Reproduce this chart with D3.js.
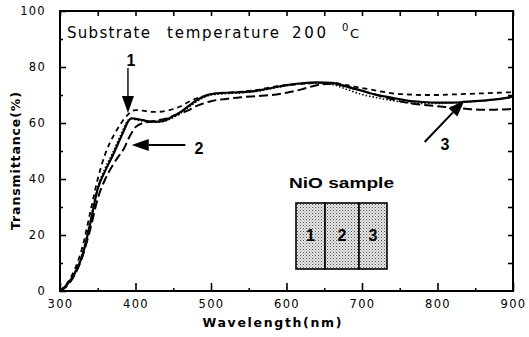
<!DOCTYPE html>
<html>
<head>
<meta charset="utf-8">
<script src="https://cdn.jsdelivr.net/npm/d3@7"></script>
<style>
  html, body { margin: 0; padding: 0; background: #fff; }
  svg { display: block; }
  .tick text { font-family: "DejaVu Sans", sans-serif; font-size: 11.5px; letter-spacing: 1.3px; fill: #000; }
</style>
</head>
<body>
<svg id="chart" width="529" height="337"></svg>
<script>
// Transmittance spectra of NiO films, substrate at 200 °C
const wavelengths = [300, 310, 320, 330, 340, 350, 360, 370, 380, 385, 390, 395, 400, 410, 420, 430, 440, 450, 460, 470, 480, 490, 500, 520, 540, 560, 580, 600, 620, 640, 660, 680, 700, 720, 740, 760, 780, 800, 820, 840, 860, 880, 900];

// position 1 (solid)
const sample1 = [0, 2.5, 6.5, 13, 24, 36.5, 43, 48.5, 54.5, 57.5, 60.5, 61.7, 61.5, 61, 60.5, 60.5, 61, 62.5, 64, 66, 68, 69.5, 70.3, 70.8, 71, 71.5, 72.5, 73.5, 74.2, 74.5, 74.3, 73, 71.5, 70, 69, 68, 67.5, 67.3, 67.3, 67.6, 68, 68.5, 69.5];
// position 2 (long dash)
const sample2 = [0, 2, 6, 12.5, 22, 33, 40, 45, 49, 51, 54, 56.5, 58.5, 60, 60.5, 61, 61.5, 62.5, 63.5, 64.5, 66, 67, 67.8, 68.6, 69.2, 69.6, 70, 70.8, 72, 73.5, 74, 73, 71.5, 70, 68.5, 67.2, 66.5, 66, 65.5, 65, 64.7, 64.8, 65];
// position 3 (short dash)
const sample3 = [0, 3, 8, 16, 28, 40, 49, 55, 59.5, 61.5, 63, 64.2, 64.6, 64.4, 64, 64, 64.3, 65, 66, 67.5, 68.7, 69.5, 70.3, 70.8, 71.2, 71.8, 72.8, 73.5, 74, 74.3, 74.3, 73.5, 72.5, 71.5, 70.6, 70.2, 70, 70, 70.2, 70.4, 70.6, 70.8, 71];
// repeat scan (dotted)
const sampleRepeat = [0, 2.5, 7, 14, 25, 37, 44, 49.5, 55.5, 58.5, 61, 61.5, 61.2, 60.7, 60.3, 60.3, 60.8, 62, 63.5, 65.5, 67.5, 69, 70, 70.5, 70.8, 71.3, 72.3, 73.3, 74, 74.2, 73.8, 72, 70.2, 69, 68, 67.3, 67, 67, 67.2, 67.5, 68, 68.5, 69];

const xTicks = [300, 400, 500, 600, 700, 800, 900];
const xMinorTicks = [350, 450, 550, 650, 750, 850];
const yTicks = [0, 20, 40, 60, 80, 100];
const yMinorTicks = [10, 30, 50, 70, 90];
const yAllTicks = [10, 20, 30, 40, 50, 60, 70, 80, 90];

const svg = d3.select("#chart");
const x = d3.scaleLinear().domain([300, 900]).range([60, 513]);
const y = d3.scaleLinear().domain([0, 100]).range([291, 11]);

function styleAxis(g) {
  g.attr("font-family", null).attr("font-size", null);
  g.select(".domain").remove();
  g.selectAll(".tick line").attr("stroke", "#000").attr("stroke-width", 1.6);
}

// bottom axis
svg.append("g").attr("transform", `translate(0,${y(0)})`)
  .call(d3.axisBottom(x).tickValues(xTicks).tickSize(-8).tickPadding(9).tickFormat(d3.format("d")))
  .call(styleAxis);
svg.append("g").attr("transform", `translate(0,${y(0)})`)
  .call(d3.axisBottom(x).tickValues(xMinorTicks).tickSize(-3).tickFormat(""))
  .call(styleAxis);
// top axis
svg.append("g").attr("transform", `translate(0,${y(100)})`)
  .call(d3.axisTop(x).tickValues(xTicks.concat(xMinorTicks)).tickSize(-5).tickFormat(""))
  .call(styleAxis);
// left axis
svg.append("g").attr("transform", `translate(${x(300)},0)`)
  .call(d3.axisLeft(y).tickValues(yTicks).tickSize(-6).tickPadding(14).tickFormat(d3.format("d")))
  .call(styleAxis);
svg.append("g").attr("transform", `translate(${x(300)},0)`)
  .call(d3.axisLeft(y).tickValues(yMinorTicks).tickSize(-3).tickFormat(""))
  .call(styleAxis);
// right axis
svg.append("g").attr("transform", `translate(${x(900)},0)`)
  .call(d3.axisRight(y).tickValues(yAllTicks).tickSize(-5).tickFormat(""))
  .call(styleAxis);

// frame
svg.append("rect")
  .attr("x", x(300)).attr("y", y(100))
  .attr("width", x(900) - x(300)).attr("height", y(0) - y(100))
  .attr("fill", "none").attr("stroke", "#000").attr("stroke-width", 2);

// spectra
const line = d3.line()
  .x((d, i) => x(wavelengths[i]))
  .y(d => y(d))
  .curve(d3.curveMonotoneX);

const series = [
  { values: sampleRepeat, dash: "1.5,2", width: 1.6 },
  { values: sample2, dash: "9,4", width: 2 },
  { values: sample3, dash: "5,4", width: 1.8 },
  { values: sample1, dash: null, width: 2.2 }
];
svg.append("g").selectAll("path").data(series).join("path")
  .attr("d", d => line(d.values))
  .attr("fill", "none")
  .attr("stroke", "#000")
  .attr("stroke-width", d => d.width)
  .attr("stroke-dasharray", d => d.dash)
  .attr("stroke-linejoin", "round");

// annotation arrows, given in data coordinates
const arrows = [
  { label: "1", tail: [390, 79.6], tip: [390, 63.6], text: [394, 80.5] },
  { label: "2", tail: [466, 52.1], tip: [395, 52.1], text: [484, 49] },
  { label: "3", tail: [783, 53.2], tip: [836, 68.2], text: [810, 50.2] }
];
const ann = svg.append("g");
arrows.forEach(a => {
  const x0 = x(a.tail[0]), y0 = y(a.tail[1]);
  const x1 = x(a.tip[0]), y1 = y(a.tip[1]);
  const len = Math.hypot(x1 - x0, y1 - y0);
  const ux = (x1 - x0) / len, uy = (y1 - y0) / len;
  const hl = 17, hw = 6;
  const bx = x1 - ux * hl, by = y1 - uy * hl;
  ann.append("line")
    .attr("x1", x0).attr("y1", y0).attr("x2", bx).attr("y2", by)
    .attr("stroke", "#000").attr("stroke-width", a.label === "1" ? 1.4 : 2);
  ann.append("path")
    .attr("d", `M${x1},${y1}L${bx - uy * hw},${by + ux * hw}L${bx + uy * hw},${by - ux * hw}Z`)
    .attr("fill", "#000");
  ann.append("text")
    .attr("x", x(a.text[0])).attr("y", y(a.text[1]))
    .attr("text-anchor", "middle")
    .attr("font-family", "Liberation Sans, Arial, sans-serif")
    .attr("font-weight", "bold").attr("font-size", 16)
    .text(a.label);
});

// heading
const head = svg.append("g")
  .attr("font-family", "DejaVu Sans, sans-serif")
  .attr("font-size", 15).attr("fill", "#000");
head.append("text").attr("x", 67).attr("y", 38).attr("textLength", 83).attr("lengthAdjust", "spacing").text("Substrate");
head.append("text").attr("x", 167).attr("y", 38).attr("textLength", 112).attr("lengthAdjust", "spacing").text("temperature");
head.append("text").attr("x", 292).attr("y", 38).attr("textLength", 34).attr("lengthAdjust", "spacing").text("200");
head.append("text").attr("x", 342).attr("y", 31).attr("font-size", 10).text("0");
head.append("text").attr("x", 350).attr("y", 38).attr("font-size", 13).text("C");

// axis titles
svg.append("text")
  .attr("x", 272).attr("y", 327)
  .attr("text-anchor", "middle")
  .attr("font-family", "DejaVu Sans, sans-serif")
  .attr("font-weight", "bold").attr("font-size", 12.5)
  .attr("textLength", 139).attr("lengthAdjust", "spacing")
  .text("Wavelength(nm)");
svg.append("text")
  .attr("transform", "translate(20,161) rotate(-90)")
  .attr("text-anchor", "middle")
  .attr("font-family", "DejaVu Sans, sans-serif")
  .attr("font-weight", "bold").attr("font-size", 12.5)
  .attr("textLength", 138).attr("lengthAdjust", "spacing")
  .text("Transmittance(%)");

// sample layout inset
const defs = svg.append("defs");
const pat = defs.append("pattern").attr("id", "stipple")
  .attr("width", 3).attr("height", 3).attr("patternUnits", "userSpaceOnUse");
pat.append("rect").attr("width", 3).attr("height", 3).attr("fill", "#e6e6e6");
pat.append("rect").attr("x", 0).attr("y", 0).attr("width", 1).attr("height", 1).attr("fill", "#555");
pat.append("rect").attr("x", 1.5).attr("y", 1.5).attr("width", 1).attr("height", 1).attr("fill", "#888");

const cells = ["1", "2", "3"];
const cellEdges = [296, 325, 359, 387];
const inset = svg.append("g");
inset.append("text")
  .attr("x", 289).attr("y", 188)
  .attr("font-family", "Liberation Sans, Arial, sans-serif")
  .attr("font-weight", "bold").attr("font-size", 15)
  .attr("textLength", 105).attr("lengthAdjust", "spacingAndGlyphs")
  .text("NiO sample");
inset.selectAll("rect.cell").data(cells).join("rect")
  .attr("class", "cell")
  .attr("x", (d, i) => cellEdges[i]).attr("y", 203)
  .attr("width", (d, i) => cellEdges[i + 1] - cellEdges[i]).attr("height", 66)
  .attr("fill", "url(#stipple)").attr("stroke", "#000").attr("stroke-width", 1.6);
inset.selectAll("text.num").data(cells).join("text")
  .attr("class", "num")
  .attr("x", (d, i) => (cellEdges[i] + cellEdges[i + 1]) / 2).attr("y", 241)
  .attr("text-anchor", "middle")
  .attr("font-family", "Liberation Sans, Arial, sans-serif")
  .attr("font-weight", "bold").attr("font-size", 16)
  .text(d => d);
</script>
</body>
</html>
